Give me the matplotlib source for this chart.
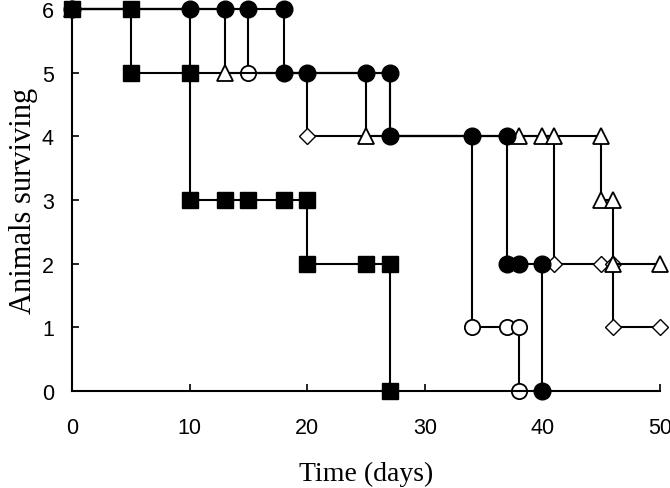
import matplotlib
matplotlib.use("Agg")
import matplotlib.pyplot as plt

# survival data: time (days) and animals surviving, one list pair per group
sq_t = [0, 5, 5, 10, 10, 13, 15, 18, 20, 20, 25, 27, 27]
sq_n = [6, 6, 5, 5, 3, 3, 3, 3, 3, 2, 2, 2, 0]

fc_t = [0, 10, 13, 15, 18, 18, 20, 25, 27, 27, 34, 37, 37, 38, 40, 40]
fc_n = [6, 6, 6, 6, 6, 5, 5, 5, 5, 4, 4, 4, 2, 2, 2, 0]

tri_t = [0, 13, 25, 38, 40, 41, 45, 45, 46, 46, 50]
tri_n = [6, 5, 4, 4, 4, 4, 4, 3, 3, 2, 2]

dm_t = [0, 10, 20, 41, 45, 46, 46, 50]
dm_n = [6, 5, 4, 2, 2, 2, 1, 1]

oc_t = [0, 15, 27, 34, 37, 38, 38]
oc_n = [6, 5, 4, 1, 1, 1, 0]

x_ticks = [0, 10, 20, 30, 40, 50]
y_ticks = [0, 1, 2, 3, 4, 5, 6]

fig = plt.figure(figsize=(6.7, 4.89), dpi=100)
ax = fig.add_axes([0.1075, 0.1984, 0.8775, 0.7812])

lw = 1.5
common = dict(drawstyle='steps-post', color='black', lw=lw, clip_on=False)

# hollow groups first, filled on top
ax.plot(dm_t, dm_n, marker='D', ms=8, mfc='white', mec='black', mew=1.0, **common)
ax.plot(oc_t, oc_n, marker='o', ms=11, mfc='white', mec='black', mew=1.3, **common)
ax.plot(tri_t, tri_n, marker='^', ms=11, mfc='white', mec='black', mew=1.3, **common)
ax.plot(fc_t, fc_n, marker='o', ms=12, mfc='black', mec='black', **common)
ax.plot(sq_t, sq_n, marker='s', ms=11, mfc='black', mec='black', **common)

ax.set_xlim(0, 50)
ax.set_ylim(0, 6)
ax.set_xticks(x_ticks)
ax.set_yticks(y_ticks)

for s in ['top', 'right']:
    ax.spines[s].set_visible(False)
for s in ['left', 'bottom']:
    ax.spines[s].set_linewidth(1.5)

ax.tick_params(direction='in', length=5, width=1.2, labelsize=15.5)
ax.tick_params(axis='x', pad=19)
ax.tick_params(axis='y', pad=13)
for lab in ax.get_xticklabels() + ax.get_yticklabels():
    lab.set_fontfamily('Liberation Sans')

ax.set_xlabel('Time (days)', fontsize=20, family='Liberation Serif', labelpad=16)
ax.set_ylabel('Animals surviving', fontsize=22, family='Liberation Serif', labelpad=3)

fig.savefig('out.png', dpi=100)
